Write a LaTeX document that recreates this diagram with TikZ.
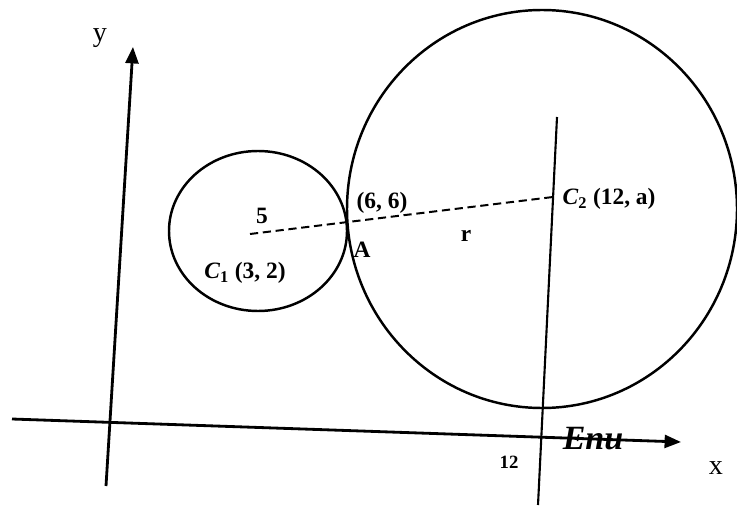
\documentclass[tikz,border=0pt]{standalone}
\usepackage{fontspec}
\setmainfont{Liberation Serif}
\usepackage{tikz}
\usetikzlibrary{positioning, arrows.meta, calc}
\tikzset{
  axis/.style={line width=2.4pt, -{Triangle[length=14pt, width=11pt]}},
  rim/.style={line width=2.1pt},
  radius line/.style={line width=1.7pt, dash pattern=on 7pt off 4pt},
  lbl/.style={font=\fontsize{20}{23}\selectfont\bfseries, inner sep=1pt}
}
\newcommand{\ctr}[1]{\textit{C}\textsubscript{#1}}
\begin{document}
\begin{tikzpicture}[x=0.03cm, y=-0.03cm]
  \useasboundingbox (0,0) rectangle (737,512);
  % centres and point of contact
  \coordinate (cA) at (250,234);
  \coordinate (tA) at (348,222);
  \coordinate (cB) at (553,197);
  \coordinate (xs) at (12,419);
  \coordinate (xe) at (681,442);
  \coordinate (ys) at (106,486);
  \coordinate (ye) at (133,47);
  \coordinate (vs) at (557,117);
  \coordinate (ve) at (538,505);

  \draw[rim] (258,231) ellipse [x radius=89, y radius=80];
  \draw[rim] (542,209) ellipse [x radius=195, y radius=199];
  \draw[line width=1.8pt] (vs) -- (ve);
  \draw[axis] (xs) -- (xe);
  \draw[axis] (ys) -- (ye);
  \draw[radius line] (cA) -- (tA) -- (cB);

  \node[lbl, font=\fontsize{24}{26}\selectfont] (ylab) at (100,38) {y};
  \node[lbl, font=\fontsize{24}{26}\selectfont] (xlab) at (716,468) {x};
  \node[lbl] (rad5) at (262,216) {5};
  \node[lbl] (pt66) at (382,203) {(6, 6)};
  \node[lbl] (ptA) at (362,250) {A};
  \node[lbl] (radr) at (466,236) {r};
  \node[lbl] (lblB) at (609,199) {\ctr{2} (12, a)};
  \node[lbl] (lblA) at (245,273) {\ctr{1} (3, 2)};
  \node[lbl, font=\fontsize{16}{18}\selectfont\bfseries] (tick12) at (509,462) {12};
  \node[lbl, font=\fontsize{29}{31}\selectfont\bfseries\itshape, anchor=base] (enu) at (593,449) {Enu};
\end{tikzpicture}
\end{document}
